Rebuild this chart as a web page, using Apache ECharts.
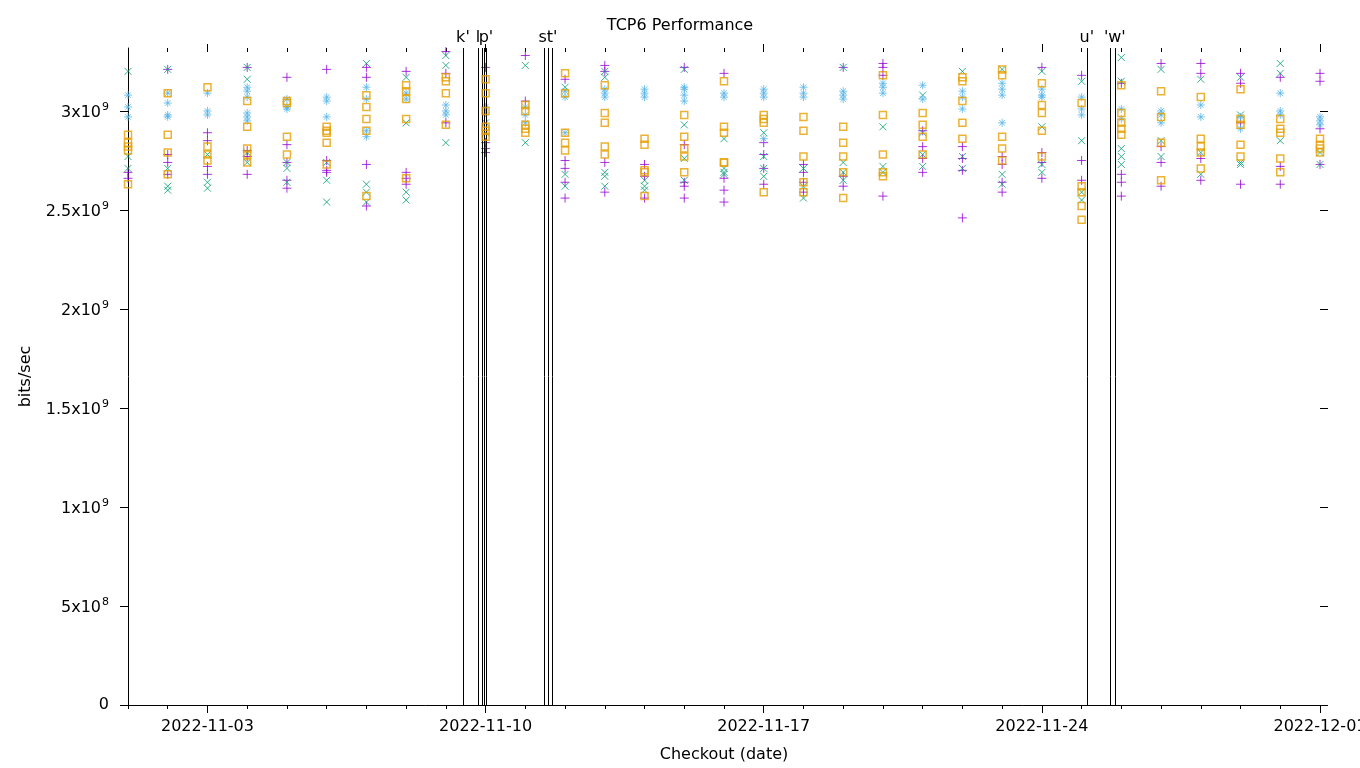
<!DOCTYPE html>
<html>
<head>
<meta charset="utf-8">
<script src="https://cdn.jsdelivr.net/npm/echarts@6/dist/echarts.min.js"></script>
<style>
html,body{margin:0;padding:0;background:#fff;}
#chart{width:1360px;height:768px;}
</style>
</head>
<body>
<div id="chart"></div>
<script>
// ---- Data (values in units of 1e9 bits/sec) ----
var dates = ['2022-11-01','2022-11-02','2022-11-03','2022-11-04','2022-11-05','2022-11-06','2022-11-07','2022-11-08','2022-11-09','2022-11-10',
             '2022-11-11','2022-11-12','2022-11-13','2022-11-14','2022-11-15','2022-11-16','2022-11-17','2022-11-18','2022-11-19','2022-11-20',
             '2022-11-21','2022-11-22','2022-11-23','2022-11-24','2022-11-25','2022-11-26','2022-11-27','2022-11-28','2022-11-29','2022-11-30','2022-12-01'];

var purpleVals = [
 [2.69,2.66],[3.21,2.78,2.74,2.68],[2.89,2.85,2.72,2.68],[3.22,2.80,2.77,2.68],[3.17,2.83,2.74,2.65,2.61],
 [3.21,2.75,2.70,2.69],[3.22,3.17,2.73,2.52],[3.20,2.69,2.66,2.63],[3.30,3.19,2.94],[3.22,2.84,2.81,2.79],
 [3.28,3.05],[3.16,2.75,2.71,2.64,2.56],[3.23,3.20,2.74,2.59],[2.73,2.67,2.56],[3.22,2.83,2.64,2.62,2.56],
 [3.19,2.66,2.60,2.54],[2.84,2.78,2.71,2.63],[2.73,2.69,2.64,2.59],[3.22,2.67,2.62],[3.24,3.22,3.18,2.57],
 [2.90,2.82,2.76,2.69],[2.82,2.76,2.70,2.46],[2.77,2.73,2.64,2.59],[3.22,2.79,2.74,2.66],[3.18,2.75,2.65],
 [3.14,2.68,2.64,2.57],[3.24,2.82,2.74,2.62],[3.24,3.19,2.76,2.65],[3.19,3.14,2.94,2.63],[3.17,2.72,2.63],[3.19,3.15,2.91,2.73]
];
var greenVals = [
 [3.20,2.77,2.71],[3.21,2.71,2.62,2.60],[2.78,2.64,2.61],[3.22,3.16,2.79,2.74],[2.74,2.71,2.64],
 [2.74,2.65,2.54],[3.24,2.63,2.59,2.54],[3.17,2.94,2.59,2.55],[3.28,3.23,2.84],[2.94,2.89],
 [3.23,2.84],[3.12,2.68,2.62],[3.20,3.17,2.69,2.67,2.62],[2.65,2.62,2.60],[3.21,2.93,2.76,2.65],
 [2.86,2.71,2.69,2.68],[2.89,2.77,2.71,2.67],[2.71,2.62,2.56],[3.22,2.74,2.69,2.65],[2.92,2.72,2.69],
 [3.08,2.89,2.78,2.72],[3.20,2.77,2.71],[3.21,2.68,2.63],[3.20,2.92,2.73,2.69],[3.15,2.85,2.59,2.55],
 [3.27,3.15,2.81,2.77,2.73],[3.21,2.85,2.77],[3.16,2.79,2.68],[3.17,2.98,2.74,2.73],[3.24,3.19,2.85],[2.79,2.73]
];
var blueVals = [
 [3.08,3.02,2.97],[3.09,3.04,2.98,2.97],[3.09,3.00,2.98],[3.12,3.10,3.07,2.99,2.97,2.95],[3.06,3.02,3.01],
 [3.07,3.05,2.97],[3.12,3.06,2.90,2.87],[3.09,3.06],[3.03,3.00,2.98],[3.02,2.99],
 [3.02,2.98,2.94],[3.10,3.07,2.89],[3.11,3.09,3.07],[3.11,3.09,3.07],[3.12,3.11,3.08,3.05],
 [3.09,3.07],[3.11,3.09,3.07,2.86],[3.12,3.09,3.07],[3.10,3.08,3.06],[3.14,3.12,3.09],
 [3.13,3.06],[3.10,3.07,3.01],[3.14,3.11,3.08,2.94],[3.11,3.08,3.07],[3.07,3.01,2.98],
 [3.01,2.96],[3.00,2.98,2.94],[3.03,2.97],[2.97,2.91],[3.09,3.00,2.98],[2.97,2.95,2.93]
];
var orangeVals = [
 [2.88,2.84,2.82,2.80,2.63],[3.09,2.88,2.79,2.68],[3.12,2.82,2.78,2.75],[3.05,2.92,2.81,2.78,2.74],[3.05,3.04,2.87,2.78],
 [2.92,2.90,2.89,2.84,2.73],[3.08,3.02,2.96,2.90,2.57],[3.13,3.10,3.06,2.96,2.66],[3.17,3.15,3.09,2.93],[3.16,3.09,3.00,2.92,2.90,2.87],
 [3.03,3.00,2.93,2.91,2.89],[3.19,3.09,2.89,2.84,2.80],[3.13,2.99,2.94,2.82,2.78],[2.86,2.83,2.70,2.69,2.57],[2.98,2.87,2.81,2.77,2.69],
 [3.15,2.92,2.89,2.74,2.74],[2.98,2.96,2.94,2.59],[2.97,2.90,2.77,2.64,2.59],[2.92,2.84,2.77,2.69,2.56],[3.18,2.98,2.78,2.69,2.67],
 [2.99,2.93,2.87,2.78],[3.17,3.15,3.05,2.94,2.86],[3.21,3.18,2.87,2.81,2.75],[3.14,3.03,2.99,2.90,2.77],[3.04,2.62,2.59,2.52,2.45],
 [3.13,2.99,2.94,2.91,2.88],[3.10,2.97,2.84,2.65],[3.07,2.86,2.82,2.79,2.71],[3.11,2.96,2.93,2.83,2.77],[2.96,2.91,2.89,2.76,2.69],[2.86,2.83,2.81,2.79]
];

// event markers (vertical lines) and their labels
var eventTimes = ['2022-11-09T10:19','2022-11-09T19:22','2022-11-09T21:48','2022-11-09T23:00','2022-11-10T00:12',
                  '2022-11-11T11:14','2022-11-11T13:39','2022-11-11T16:03',
                  '2022-11-25T03:10','2022-11-25T17:04','2022-11-25T20:04'];
var eventLabels = ["k'","l","","","p'","","st'","","u'","","'w'"];

var majorTickDates = ['2022-11-03','2022-11-10','2022-11-17','2022-11-24','2022-12-01'];
var yTickValues = [0, 0.5, 1, 1.5, 2, 2.5, 3];

// ---- Helpers ----
var UNIT = 1e9;
function toMs(s){ return Date.parse(s.length === 10 ? s + 'T00:00:00Z' : s + ':00Z'); }
function pad(n){ return n < 10 ? '0' + n : '' + n; }
function fmtDate(v){ var d = new Date(v); return d.getUTCFullYear() + '-' + pad(d.getUTCMonth()+1) + '-' + pad(d.getUTCDate()); }
function build(vals){
  var out = [];
  for (var i = 0; i < dates.length; i++) {
    var t = toMs(dates[i]);
    (vals[i] || []).forEach(function(v){ out.push([t, v * UNIT]); });
  }
  return out;
}
var T0 = toMs(dates[0]), T1 = toMs(dates[dates.length-1]);
var dayTicks = dates.map(toMs);
var majorTicks = majorTickDates.map(toMs);
var yTicks = yTickValues.map(function(v){ return v * UNIT; });
var YMAX = 3.318 * UNIT;

function yFmt(v){
  if (v === 0) return '{z|0}';
  var e = Math.floor(Math.log10(v) + 1e-9);
  var m = Math.round(v / Math.pow(10, e) * 100) / 100;
  return '{n|' + m + 'x10}{s|' + e + '}';
}

var FONT = 'DejaVu Sans';
var black = '#000';
var plusPath = 'path://M0,5L10,5M5,0L5,10';
var crossPath = 'path://M0,0L10,10M0,10L10,0';
var starPath = 'path://M0,5L10,5M5,0L5,10M1.5,1.5L8.5,8.5M1.5,8.5L8.5,1.5';

function xAx(extra){
  return Object.assign({type:'value', min:T0, max:T1, splitLine:{show:false}, axisLine:{show:false},
    axisLabel:{show:false}, axisTick:{show:false}}, extra);
}
function yAx(extra){
  return Object.assign({type:'value', min:0, max:YMAX, splitLine:{show:false}}, extra);
}

var chart = echarts.init(document.getElementById('chart'), null, {renderer:'canvas'});
chart.setOption({
  backgroundColor:'#fff',
  animation:false,
  textStyle:{fontFamily:FONT},
  title:{text:'TCP6 Performance', left:'center', top:13,
    textStyle:{fontFamily:FONT, fontSize:16, fontWeight:'normal', color:black}},
  grid:{left:128, right:40, top:48, bottom:63, containLabel:false, outerBoundsMode:'none'},
  xAxis:[
    xAx({position:'bottom', axisLine:{show:true, lineStyle:{color:black, width:1}},
      axisTick:{show:true, length:8, customValues:majorTicks, lineStyle:{color:black}},
      axisLabel:{show:true, customValues:majorTicks, formatter:fmtDate, fontFamily:FONT, fontSize:16, color:black, margin:14},
      name:'Checkout (date)', nameLocation:'middle', nameGap:42,
      nameTextStyle:{fontFamily:FONT, fontSize:16, color:black}}),
    xAx({position:'bottom', axisTick:{show:true, length:4, customValues:dayTicks, lineStyle:{color:black}}}),
    xAx({position:'top', axisTick:{show:true, inside:true, length:4, customValues:dayTicks, lineStyle:{color:black}}}),
    xAx({position:'top', axisTick:{show:true, length:4, customValues:majorTicks, lineStyle:{color:black}}})
  ],
  yAxis:[
    yAx({position:'left', axisLine:{show:true, lineStyle:{color:black, width:1}},
      axisTick:{show:true, length:8, customValues:yTicks, lineStyle:{color:black}},
      axisLabel:{show:true, customValues:yTicks, formatter:yFmt, margin:19, color:black,
        rich:{n:{fontFamily:FONT, fontSize:16, color:black, lineHeight:18, padding:[4,0,0,0]},
              z:{fontFamily:FONT, fontSize:16, color:black, lineHeight:18},
              s:{fontFamily:FONT, fontSize:11, color:black, lineHeight:11, verticalAlign:'top', padding:[0,0,6,1]}}},
      name:'bits/sec', nameLocation:'middle', nameGap:94, nameRotate:90,
      nameTextStyle:{fontFamily:FONT, fontSize:16, color:black}}),
    yAx({position:'right', axisLine:{show:false},
      axisTick:{show:true, length:8, customValues:yTicks, lineStyle:{color:black}},
      axisLabel:{show:false}})
  ],
  series:[
    {type:'scatter', data:[], z:1, silent:true,
     markLine:{silent:true, symbol:['none','none'], animation:false,
       lineStyle:{color:black, width:1, type:'solid'},
       label:{show:true, position:'end', distance:2, color:black, fontFamily:FONT, fontSize:16},
       emphasis:{disabled:true},
       data:eventTimes.map(function(t,i){ return {xAxis:toMs(t), label:{formatter:eventLabels[i]}}; })}},
    {type:'scatter', name:'s1', data:build(purpleVals), symbol:plusPath, symbolSize:9, z:2,
     itemStyle:{color:'rgba(0,0,0,0)', borderColor:'#9400d3', borderWidth:1}},
    {type:'scatter', name:'s2', data:build(greenVals), symbol:crossPath, symbolSize:7, z:3,
     itemStyle:{color:'rgba(0,0,0,0)', borderColor:'#009e73', borderWidth:1}},
    {type:'scatter', name:'s3', data:build(blueVals), symbol:starPath, symbolSize:8, z:4,
     itemStyle:{color:'rgba(0,0,0,0)', borderColor:'#56b4e9', borderWidth:1}},
    {type:'scatter', name:'s4', data:build(orangeVals), symbol:'rect', symbolSize:7, z:5,
     itemStyle:{color:'rgba(0,0,0,0)', borderColor:'#e69f00', borderWidth:1.5}}
  ]
});
</script>
</body>
</html>
